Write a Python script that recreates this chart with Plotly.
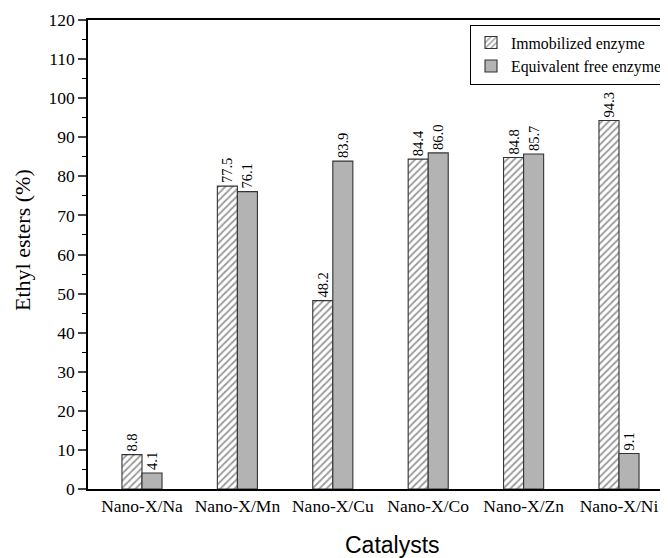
import plotly.graph_objects as go

categories = ["Nano-X/Na", "Nano-X/Mn", "Nano-X/Cu", "Nano-X/Co", "Nano-X/Zn", "Nano-X/Ni"]
immobilized = [8.8, 77.5, 48.2, 84.4, 84.8, 94.3]
free_enzyme = [4.1, 76.1, 83.9, 86.0, 85.7, 9.1]
y_ticks = list(range(0, 121, 10))

serif = "Liberation Serif, Times New Roman, serif"
sans = "Liberation Sans, Arial, sans-serif"

fig = go.Figure()
fig.add_trace(go.Bar(
    x=categories, y=immobilized, name="Immobilized enzyme",
    marker=dict(color="white", line=dict(color="#333333", width=1.1),
                pattern=dict(shape="/", fgcolor="#333333", bgcolor="white", size=5, solidity=0.35)),
    text=[f"{v:.1f}" for v in immobilized], textposition="outside", textangle=-90,
    constraintext="none",
    textfont=dict(family=serif, size=14.5, color="black"), cliponaxis=False,
))
fig.add_trace(go.Bar(
    x=categories, y=free_enzyme, name="Equivalent free enzyme",
    marker=dict(color="#b3b3b3", line=dict(color="#333333", width=1.1)),
    text=[f"{v:.1f}" for v in free_enzyme], textposition="outside", textangle=-90,
    constraintext="none",
    textfont=dict(family=serif, size=14.5, color="black"), cliponaxis=False,
))

fig.update_layout(
    width=740, height=550,
    margin=dict(l=80, r=75, t=12, b=69, autoexpand=False),
    paper_bgcolor="white", plot_bgcolor="white",
    barmode="group", bargap=0.58, bargroupgap=0,
    font=dict(family=serif, size=17.5, color="black"),
    legend=dict(x=0.653, y=0.99, xanchor="left", yanchor="top",
                bordercolor="black", borderwidth=1, bgcolor="white",
                font=dict(family=serif, size=15.8), tracegroupgap=0,
                itemwidth=30),
    xaxis=dict(
        range=[-0.566, 5.566], showline=True, linecolor="black", linewidth=1.5,
        mirror=True, ticks="", showgrid=False, tickfont=dict(family=serif, size=17.5),
        automargin=False,
    ),
    yaxis=dict(
        range=[0, 120], tickvals=y_ticks, showline=True, linecolor="black", linewidth=1.5,
        ticks="outside", ticklen=8, tickwidth=1.5, showgrid=False, zeroline=False,
        tickfont=dict(family=serif, size=17.5), automargin=False,
        minor=dict(dtick=5, ticks="outside", ticklen=4, tickwidth=1.2, tickcolor="black", showgrid=False),
    ),
    annotations=[
        dict(text="Ethyl esters (%)", xref="paper", yref="paper", x=-0.111, y=0.531,
             xanchor="center", yanchor="middle", textangle=-90, showarrow=False,
             font=dict(family=serif, size=22, color="black")),
        dict(text="Catalysts", xref="paper", yref="paper", x=0.52, y=-0.119,
             xanchor="center", yanchor="middle", showarrow=False,
             font=dict(family=sans, size=23, color="black")),
    ],
)

fig.write_html("out.html")
